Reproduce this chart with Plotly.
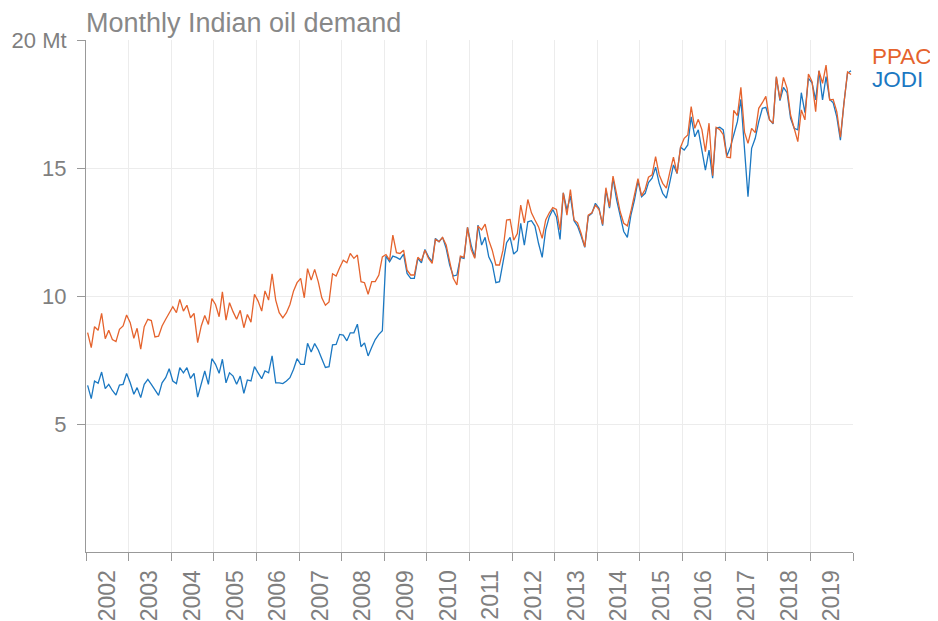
import plotly.graph_objects as go

# ---- data (Mt per month), Jan 2002 .. Dec 2019 ----
ppac = [
    # 2002
    8.57, 7.98, 8.8, 8.66, 9.32, 8.33, 8.66, 8.3, 8.22, 8.7, 8.83, 9.26,
    # 2003
    8.96, 8.35, 8.74, 7.92, 8.8, 9.09, 9.04, 8.4, 8.43, 8.83, 9.09, 9.35,
    # 2004
    9.58, 9.35, 9.87, 9.41, 9.64, 9.15, 9.32, 8.18, 8.83, 9.24, 8.89, 9.9,
    # 2005
    9.67, 9.19, 10.16, 9.06, 9.74, 9.38, 9.09, 9.44, 8.76, 9.28, 8.98, 10.07,
    # 2006
    9.8, 9.41, 10.2, 9.84, 10.87, 9.84, 9.35, 9.15, 9.35, 9.67, 10.2, 10.52,
    # 2007
    10.69, 9.93, 11.07, 10.62, 11.04, 10.55, 9.93, 9.64, 9.77, 10.87, 10.78, 11.1,
    # 2008
    11.4, 11.3, 11.66, 11.47, 11.6, 10.56, 10.52, 10.07, 10.56, 10.56, 10.82, 11.53,
    # 2009
    11.62, 11.4, 12.38, 11.69, 11.66, 11.79, 11.01, 10.82, 10.82, 11.51, 11.38, 11.79,
    # 2010
    11.47, 11.27, 12.21, 12.12, 12.29, 11.99, 11.34, 10.69, 10.43, 11.56, 11.51, 12.68,
    # 2011
    11.82, 11.47, 12.73, 12.58, 12.81, 12.18, 11.79, 11.21, 11.21, 11.79, 12.97, 12.99,
    # 2012
    12.18, 12.44, 13.55, 12.86, 13.77, 13.25, 12.97, 12.7, 12.25, 12.97, 13.25, 13.45,
    # 2013
    13.38, 12.58, 14.03, 13.16, 14.16, 12.97, 12.86, 12.44, 11.92, 13.16, 13.25, 13.55,
    # 2014
    13.38, 12.8, 14.23, 13.48, 14.68, 13.9, 13.3, 12.84, 12.74, 13.3, 13.9, 14.58,
    # 2015
    13.91, 14.17, 14.64, 14.73, 15.44, 14.73, 14.4, 14.21, 14.86, 15.42, 14.79, 15.81,
    # 2016
    16.16, 16.29, 17.4, 16.55, 16.9, 16.5, 15.64, 16.75, 14.7, 16.59, 16.5, 16.3,
    # 2017
    15.42, 15.4, 17.25, 17.05, 18.15, 16.4, 15.96, 16.55, 16.38, 17.33, 17.55, 17.8,
    # 2018
    16.88, 16.75, 18.57, 17.68, 18.54, 18.11, 17.07, 16.55, 16.03, 17.27, 16.88, 18.67,
    # 2019
    18.37, 17.2, 18.8, 18.31, 19.02, 17.66, 17.68, 17.2, 16.2, 17.5, 18.75, 18.65,
]

jodi = [
    # 2002
    6.51, 5.99, 6.68, 6.59, 7.03, 6.38, 6.55, 6.31, 6.13, 6.52, 6.55, 6.97,
    # 2003
    6.61, 6.16, 6.42, 6.03, 6.55, 6.74, 6.55, 6.33, 6.12, 6.61, 6.81, 7.16,
    # 2004
    6.68, 6.58, 7.2, 7.0, 7.2, 6.78, 6.98, 6.05, 6.61, 7.07, 6.55, 7.55,
    # 2005
    7.33, 6.98, 7.53, 6.61, 7.0, 6.87, 6.55, 6.87, 6.2, 6.72, 6.68, 7.24,
    # 2006
    7.0, 6.77, 7.07, 7.0, 7.66, 6.61, 6.61, 6.58, 6.68, 6.81, 7.14, 7.55,
    # 2007
    7.33, 7.33, 8.15, 7.81, 8.14, 7.89, 7.55, 7.21, 7.24, 8.09, 8.11, 8.5,
    # 2008
    8.47, 8.25, 8.56, 8.56, 8.9, 8.02, 8.17, 7.66, 8.0, 8.3, 8.5, 8.64,
    # 2009
    11.56, 11.34, 11.56, 11.51, 11.43, 11.64, 10.88, 10.69, 10.69, 11.47, 11.3, 11.82,
    # 2010
    11.53, 11.34, 12.25, 12.12, 12.29, 11.86, 11.21, 10.78, 10.82, 11.51, 11.47, 12.68,
    # 2011
    11.99, 11.51, 12.77, 11.99, 12.29, 11.53, 11.25, 10.52, 10.56, 11.34, 12.08, 12.29,
    # 2012
    11.64, 11.77, 12.84, 11.99, 12.9, 12.94, 12.73, 12.05, 11.51, 12.58, 13.1, 13.38,
    # 2013
    13.1, 12.21, 14.03, 13.36, 13.9, 12.94, 12.73, 12.34, 11.9, 13.12, 13.23, 13.62,
    # 2014
    13.43, 12.75, 14.14, 13.43, 14.6, 13.75, 13.1, 12.52, 12.29, 13.15, 13.75, 14.5,
    # 2015
    13.88, 14.01, 14.43, 14.6, 15.03, 14.4, 14.01, 13.82, 14.47, 15.12, 14.79, 15.81,
    # 2016
    15.7, 15.9, 17.0, 16.22, 16.49, 15.7, 14.92, 15.7, 14.6, 16.55, 16.59, 16.49,
    # 2017
    15.47, 15.83, 16.35, 16.81, 17.68, 15.8, 13.88, 15.77, 16.16, 16.81, 17.33, 17.37,
    # 2018
    16.9, 16.72, 18.54, 17.63, 18.15, 17.94, 16.94, 16.55, 16.49, 17.94, 17.16, 18.5,
    # 2019
    18.33, 17.66, 18.8, 17.66, 18.57, 17.68, 17.55, 17.0, 16.09, 17.53, 18.7, 18.8,
]

months = [f"{2002 + i // 12}-{i % 12 + 1:02d}-15" for i in range(len(ppac))]

y_tickvals = [5, 10, 15, 20]
y_ticktext = ["5", "10", "15", "20 Mt"]

ORANGE = "#e5632d"
BLUE = "#1b78c2"
GREY = "#7f7f7f"

fig = go.Figure()
fig.add_trace(go.Scatter(x=months, y=jodi, mode="lines", name="JODI",
                         line=dict(color=BLUE, width=1.3)))
fig.add_trace(go.Scatter(x=months, y=ppac, mode="lines", name="PPAC",
                         line=dict(color=ORANGE, width=1.3)))

fig.update_layout(
    width=938, height=613,
    margin=dict(l=78, r=93, t=32, b=69),
    plot_bgcolor="white", paper_bgcolor="white",
    showlegend=False,
    font=dict(family="Liberation Sans, Arial, sans-serif", color=GREY),
)

fig.update_xaxes(
    type="date", range=["2002-01-01", "2020-01-01"],
    tick0="2002-01-01", dtick="M12", tickformat="%Y",
    ticklabelmode="period", tickangle=-90,
    ticks="outside", ticklen=8, tickcolor="#999",
    showline=True, linecolor="#999", linewidth=1,
    showgrid=True, gridcolor="#ececec",
    tickfont=dict(size=23, color=GREY),
    automargin=False,
)
fig.update_yaxes(
    range=[0, 20], tickvals=y_tickvals, ticktext=y_ticktext,
    ticks="outside", ticklen=8, tickcolor="#999",
    ticklabelstandoff=6,
    showline=True, linecolor="#999", linewidth=1,
    showgrid=True, gridcolor="#ececec", zeroline=False,
    tickfont=dict(size=22, color=GREY),
    automargin=False,
)

fig.add_annotation(text="Monthly Indian oil demand", xref="paper", yref="paper",
                   x=0, y=1, xanchor="left", yanchor="bottom", showarrow=False,
                   xshift=-2, yshift=0,
                   font=dict(size=27, color="#888888"))
fig.add_annotation(text="PPAC", xref="paper", yref="paper", x=1, y=0.967,
                   xanchor="left", yanchor="middle", showarrow=False, xshift=17,
                   font=dict(size=22.5, color=ORANGE))
fig.add_annotation(text="JODI", xref="paper", yref="paper", x=1, y=0.922,
                   xanchor="left", yanchor="middle", showarrow=False, xshift=17,
                   font=dict(size=22.5, color=BLUE))

fig.write_html("out.html")
